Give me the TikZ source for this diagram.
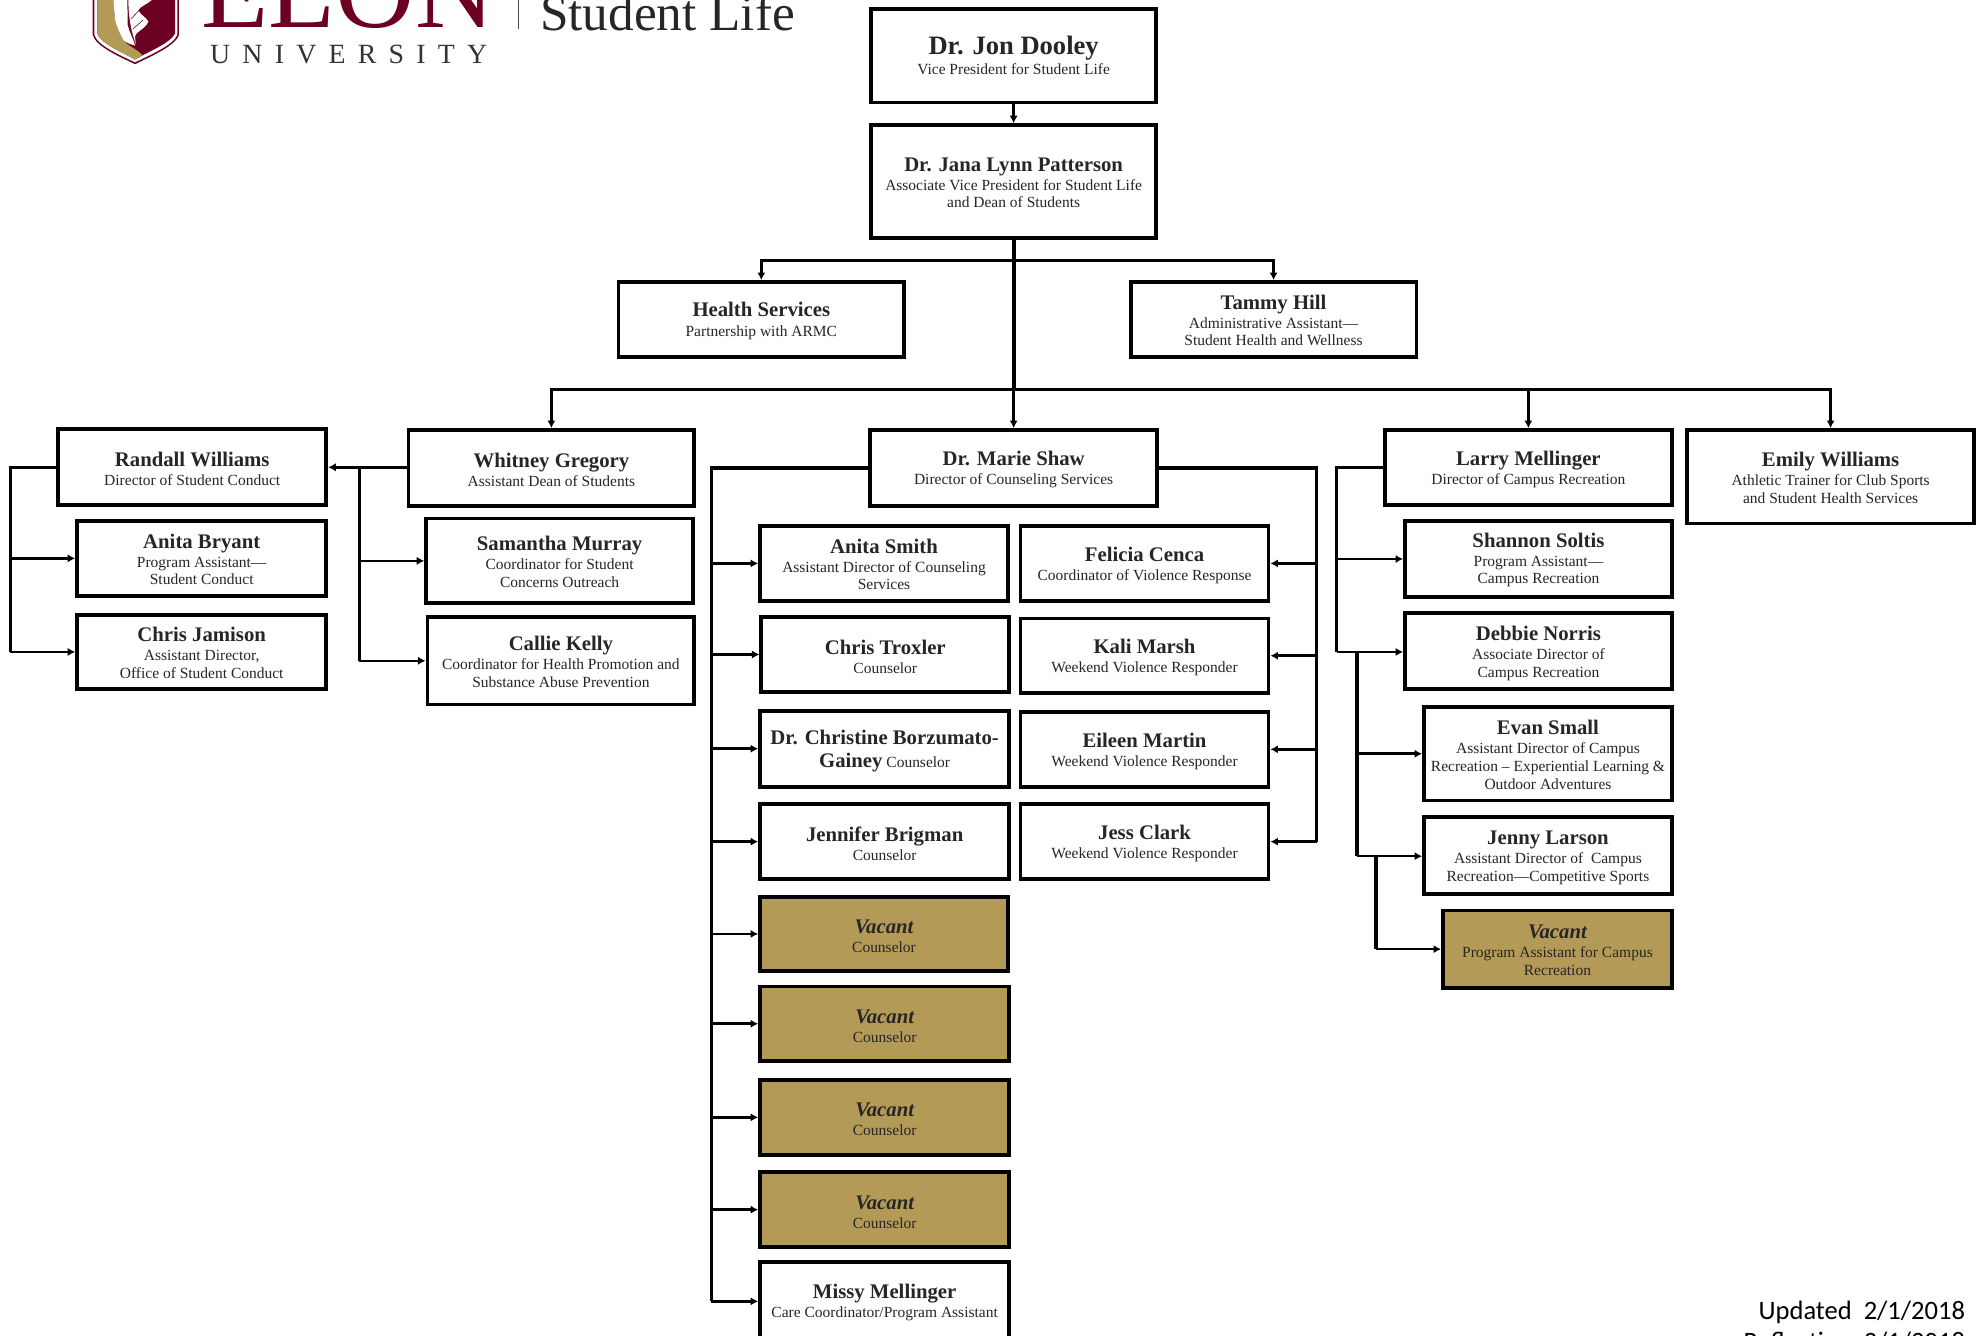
\documentclass[tikz,border=0pt]{standalone}
\usepackage{fontspec}
\setmainfont{Liberation Serif}
\newfontfamily\univf[LetterSpace=44]{Liberation Serif}
\newfontfamily\notef{Carlito}
\usetikzlibrary{arrows.meta}
\definecolor{gold}{HTML}{B39A57}
\definecolor{maroon}{HTML}{6B0023}
\newcommand\tf{\fontsize{16.4}{19}\selectfont\bfseries\rule{0pt}{13pt}}
\newcommand\tfb{\fontsize{16.4}{19}\selectfont\bfseries\rule{0pt}{14.5pt}}
\newcommand\sbf{\fontsize{12.25}{14}\selectfont\color{black!85}}
\newcommand\bx[6][]{%
 \pgfmathsetmacro\bw{#5-#3}\pgfmathsetmacro\bh{#6-#4}%
 \pgfmathsetmacro\bcx{(#3+#5)/2}\pgfmathsetmacro\bcy{(#4+#6)/2}%
 \node[orgbox,#1,minimum width=\bw pt,minimum height=\bh pt] (#2) at (\bcx,\bcy) {\boxtext};}
\newcommand\boxtext{}
\newcommand\pb[7][]{\renewcommand\boxtext{#7}\bx[#1]{#2}{#3}{#4}{#5}{#6}}
\tikzset{
 x=1pt,y=-1pt,
 orgbox/.style={draw=black,line width=3pt,fill=white,inner sep=0pt,align=center,font=\sbf},
 vacant/.style={fill=gold},
 conn/.style={draw=black,line width=2.5pt},
 arr/.style={draw=black,line width=2pt,-{Latex[length=6pt,width=6.5pt]}},
}
\begin{document}
\begin{tikzpicture}
\useasboundingbox (0,0) rectangle (1568,1056.4);
% logo
\fill[maroon] (73.3,0) -- (73.3,27.7) .. controls (76,37) and (95,45) .. (106.8,50.8) .. controls (118,45) and (138,37) .. (141.5,27.7) -- (141.5,0) -- cycle;
\fill[white] (74.6,0) -- (74.6,27.4) .. controls (77,36) and (96,44) .. (106.8,49.3) .. controls (117,44) and (137,36) .. (140.2,27.4) -- (140.2,0) -- cycle;
\fill[maroon] (77,0) -- (77,26.5) .. controls (79,34) and (97,41.5) .. (106.8,47) .. controls (116,41.5) and (135,34) .. (138.4,26.5) -- (138.4,0) -- cycle;
\fill[gold] (77,0) -- (77,26.5) .. controls (79,34) and (97,41.5) .. (106.8,47) -- (112.6,43.5) .. controls (109,40) and (107,39) .. (105.4,38) .. controls (101,35) and (99,34) .. (97.5,31.6) .. controls (94,25) and (92,20) .. (91,15.8) -- (89.6,0) -- cycle;
\fill[white] (89.6,0) -- (91,15.8) .. controls (92,20) and (94,25) .. (97.5,31.6) .. controls (100,34) and (103,35) .. (106.8,36) .. controls (105,30) and (103,27) .. (101,20) -- (100.7,0) -- cycle;
\fill[white] (101.5,0) .. controls (101.5,14) and (104,26) .. (107.5,35) .. controls (107,31) and (106,29) .. (108,26.4) .. controls (112,23) and (116,21) .. (117.3,17) .. controls (115,13) and (111,12) .. (109.4,8) .. controls (111,5) and (117,3) .. (120,0) -- cycle;
\draw[maroon,line width=.45pt] (103.5,15) -- (112,6);
\draw[maroon,line width=.45pt] (105,23) -- (113,16);
% logo text
\node[anchor=base west,inner sep=0pt,text=maroon,font=\fontsize{87}{87}\selectfont] (elon) at (159,22) {ELON};
\node[anchor=base west,inner sep=0pt,text=black!80,font=\fontsize{22}{22}\univf] (univ) at (166,50) {UNIVERSITY};
\draw[black!70,line width=.8pt] (410,0) -- (410,23);
\node[anchor=base west,inner sep=0pt,text=black!85,font=\fontsize{40.5}{40.5}\selectfont] (sl) at (427,24) {Student Life};
% boxes
\pb{dooley}{689}{7}{914}{81}{{\fontsize{21}{22}\selectfont\bfseries Dr. Jon Dooley}\\[2pt]Vice President for Student Life}
\pb{patt}{689}{99}{914}{188}{{\tf Dr. Jana Lynn Patterson}\\[1pt]Associate Vice President for Student Life\\and Dean of Students}
\pb{health}{489}{223}{715}{282}{{\tfb Health Services}\\[2pt]Partnership with ARMC}
\pb{tammy}{894}{223}{1120}{282}{{\tf Tammy Hill}\\[1pt]Administrative Assistant—\\Student Health and Wellness}
\pb{randall}{46}{339}{258}{399}{{\tfb Randall Williams}\\[1pt]Director of Student Conduct}
\pb{anitab}{61}{412}{258}{471}{{\tf Anita Bryant}\\[1pt]Program Assistant—\\Student Conduct}
\pb{chrisj}{61}{486}{258}{545}{{\tf Chris Jamison}\\[1pt]Assistant Director,\\Office of Student Conduct}
\pb{whitney}{323}{340}{549}{400}{{\tfb Whitney Gregory}\\[1pt]Assistant Dean of Students}
\pb{samantha}{337}{410}{548}{477}{{\tf Samantha Murray}\\[1pt]Coordinator for Student\\Concerns Outreach}
\pb{callie}{338}{488}{549}{557}{{\tf Callie Kelly}\\[1pt]Coordinator for Health Promotion and\\Substance Abuse Prevention}
\pb{shaw}{688}{340}{915}{400}{{\tfb Dr. Marie Shaw}\\[1pt]Director of Counseling Services}
\pb{anitas}{601}{416}{797}{475}{{\tf Anita Smith}\\[1pt]Assistant Director of Counseling\\Services}
\pb{troxler}{602}{488}{798}{547}{{\tfb Chris Troxler}\\[1pt]Counselor}
\pb{borz}{601}{562}{798}{622}{{\tfb Dr. Christine Borzumato-}\\[4pt]{\tf Gainey} Counselor}
\pb{brigman}{601}{636}{798}{695}{{\tfb Jennifer Brigman}\\[1pt]Counselor}
\pb[vacant]{vaca}{601}{709}{797}{768}{{\tfb\itshape Vacant}\\[1pt]Counselor}
\pb[vacant]{vacb}{601}{780}{798}{839}{{\tfb\itshape Vacant}\\[1pt]Counselor}
\pb[vacant]{vacc}{601}{854}{798}{913}{{\tfb\itshape Vacant}\\[1pt]Counselor}
\pb[vacant]{vacd}{601}{927}{798}{986}{{\tfb\itshape Vacant}\\[1pt]Counselor}
\pb{missy}{601}{998}{798}{1060}{{\tf Missy Mellinger}\\[1pt]Care Coordinator/Program Assistant}
\pb{felicia}{807}{416}{1003}{475}{{\tfb Felicia Cenca}\\[1pt]Coordinator of Violence Response}
\pb{kali}{807}{489}{1003}{548}{{\tfb Kali Marsh}\\[1pt]Weekend Violence Responder}
\pb{eileen}{807}{563}{1003}{622}{{\tfb Eileen Martin}\\[1pt]Weekend Violence Responder}
\pb{jess}{807}{636}{1003}{695}{{\tfb Jess Clark}\\[1pt]Weekend Violence Responder}
\pb{larry}{1095}{340}{1322}{399}{{\tfb Larry Mellinger}\\[1pt]Director of Campus Recreation}
\pb{emily}{1334}{340}{1561}{414}{{\tf Emily Williams}\\[1pt]Athletic Trainer for Club Sports\\and Student Health Services}
\pb{shannon}{1111}{412}{1322}{472}{{\tf Shannon Soltis}\\[1pt]Program Assistant—\\Campus Recreation}
\pb{debbie}{1111}{485}{1322}{545}{{\tfb Debbie Norris}\\[1pt]Associate Director of\\Campus Recreation}
\pb{evan}{1126}{559}{1322}{633}{{\tf Evan Small}\\[1pt]Assistant Director of Campus\\Recreation – Experiential Learning \&\\Outdoor Adventures}
\pb{jenny}{1126}{646}{1322}{707}{{\tfb Jenny Larson}\\[1pt]Assistant Director of\ \ Campus\\Recreation—Competitive Sports}
\pb[vacant]{vacl}{1141}{720}{1322}{781}{{\tf\itshape Vacant}\\[1pt]Program Assistant for Campus\\Recreation}
% connector joints
\coordinate (ja) at (801.5,206);
\coordinate (jb) at (801.5,308);
\coordinate (bw) at (284,369.5);
\coordinate (br) at (8,369.5);
\coordinate (bs) at (562.5,370);
\coordinate (be) at (1041,370);
\coordinate (bl) at (1057,369.5);
\coordinate (bm) at (1073,515.5);
\coordinate (bn) at (1088,677);
% connectors
\draw[arr] (dooley.south) -- (patt.north);
\draw[conn,line width=3pt] (patt.south) -- (jb);
\draw[arr] (ja) -| (health.north);
\draw[arr] (ja) -| (tammy.north);
\draw[arr] (jb) -- (shaw.north);
\draw[arr] (jb) -| (whitney.north);
\draw[arr] (jb) -| (larry.north);
\draw[arr] (jb) -| (emily.north);
\draw[arr] (whitney.west |- bw) -- (randall.east |- bw);
\draw[conn] (bw) -- (bw |- callie.west);
\draw[arr] (bw |- samantha.west) -- (samantha.west);
\draw[arr] (bw |- callie.west) -- (callie.west);
\draw[conn] (randall.west |- br) -- (br) -- (br |- chrisj.west);
\draw[arr] (br |- anitab.west) -- (anitab.west);
\draw[arr] (br |- chrisj.west) -- (chrisj.west);
\draw[conn] (shaw.west |- bs) -- (bs) -- (bs |- missy.west);
\foreach \t in {anitas,troxler,borz,brigman,vaca,vacb,vacc,vacd,missy}
  \draw[arr] (bs |- \t.west) -- (\t.west);
\draw[conn] (shaw.east |- be) -- (be) -- (be |- jess.east);
\foreach \t in {felicia,kali,eileen,jess}
  \draw[arr] (be |- \t.east) -- (\t.east);
\draw[conn] (larry.west |- bl) -- (bl) -- (bl |- bm);
\draw[arr] (bl |- shannon.west) -- (shannon.west);
\draw[arr] (bl |- bm) -- (debbie.west |- bm);
\draw[conn] (bm) -- (bm |- bn);
\draw[arr] (bm |- evan.west) -- (evan.west);
\draw[arr] (bm |- bn) -- (jenny.west |- bn);
\draw[conn] (bn) -- (bn |- vacl.west);
\draw[arr] (bn |- vacl.west) -- (vacl.west);
% note
\node[anchor=base east,inner sep=0pt,font=\fontsize{21}{21}\notef] (upd) at (1554,1043) {Updated\ \ 2/1/2018};
\node[anchor=base east,inner sep=0pt,font=\fontsize{21}{21}\notef] (refl) at (1554,1068) {Reflection\ \ 2/1/2018};
\end{tikzpicture}
\end{document}
